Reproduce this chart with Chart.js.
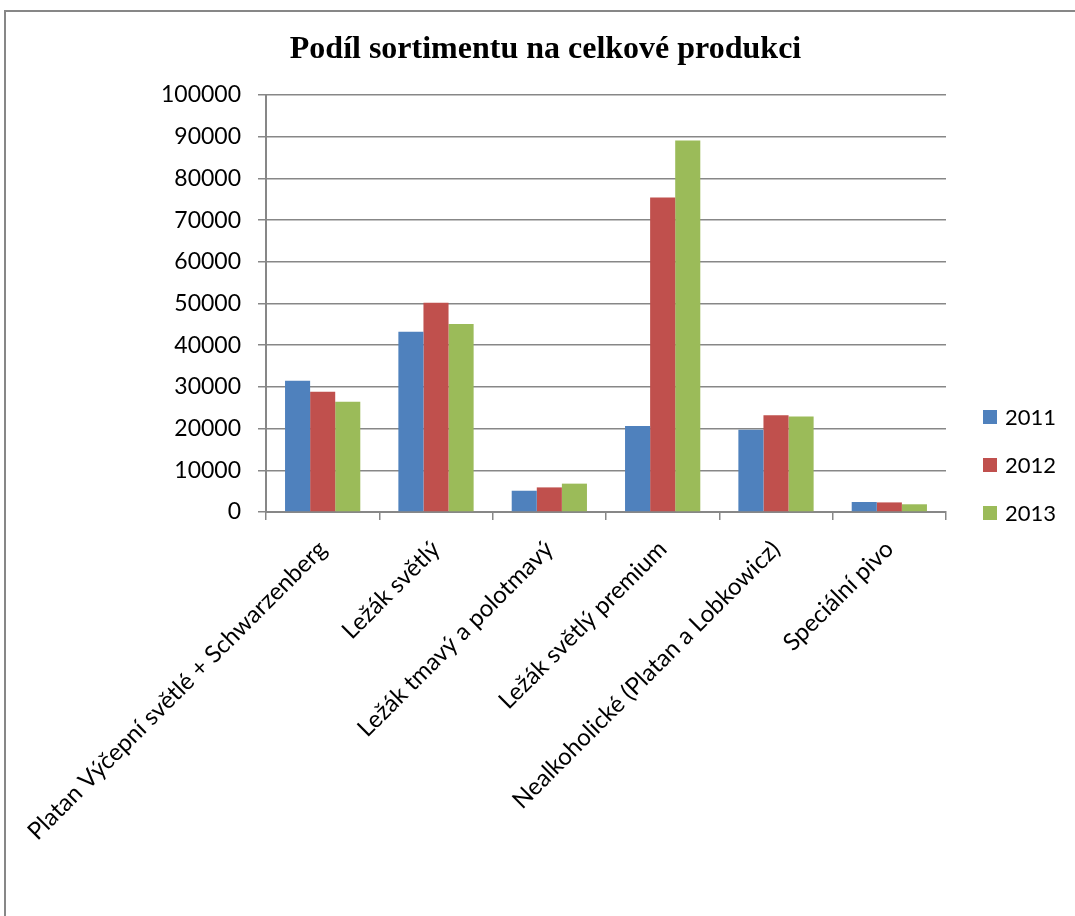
<!DOCTYPE html>
<html>
<head>
<meta charset="utf-8">
<script src="https://cdn.jsdelivr.net/npm/chart.js@4/dist/chart.umd.min.js"></script>
<style>
  html, body { margin: 0; padding: 0; background: #fff; overflow: hidden; }
  #wrap { position: relative; width: 1075px; height: 916px; }
  #frame { position: absolute; left: 4px; top: 10px; width: 1200px; height: 1000px; border: 2px solid #878787; box-sizing: border-box; }
  canvas { position: absolute; left: 0; top: 0; }
  .leg { position: absolute; left: 983px; font-family: Lato, "Liberation Sans", sans-serif; font-size: 22px; color: #000; line-height: 1; }
  .leg span.sw { position: absolute; left: 0; width: 14px; height: 14px; }
  .leg span.tx { position: absolute; left: 22px; white-space: nowrap; }
</style>
</head>
<body>
<div id="wrap">
  <div id="frame"></div>
  <canvas id="c" width="1075" height="916"></canvas>
  <div id="legend"></div>
</div>
<script>
const categories = [
  "Platan Výčepní světlé + Schwarzenberg",
  "Ležák světlý",
  "Ležák tmavý a polotmavý",
  "Ležák světlý premium",
  "Nealkoholické (Platan a Lobkowicz)",
  "Speciální pivo"
];
const seriesNames = ["2011", "2012", "2013"];
const values2011 = [31500, 43200, 5100, 20600, 19700, 2400];
const values2012 = [28850, 50200, 5900, 75400, 23200, 2300];
const values2013 = [26450, 45100, 6800, 89100, 22900, 1850];
const seriesColors = ["#4F81BD", "#C0504D", "#9BBB59"];
const titleText = "Podíl sortimentu na celkové produkci";

const seriesValues = [values2011, values2012, values2013];
const gridColor = "#878787";
const font = "Lato";

const chart = new Chart(document.getElementById("c"), {
  type: "bar",
  data: {
    labels: categories,
    datasets: seriesNames.map((n, i) => ({
      label: n,
      data: seriesValues[i],
      backgroundColor: seriesColors[i],
      borderWidth: 0,
      categoryPercentage: 0.664,
      barPercentage: 1.0
    }))
  },
  options: {
    responsive: false,
    animation: false,
    devicePixelRatio: 1,
    layout: { padding: { left: 16, right: 0, top: 0, bottom: 0 } },
    plugins: {
      legend: { display: false },
      tooltip: { enabled: false },
      title: {
        display: true,
        text: titleText,
        color: "#000",
        font: { family: "Liberation Serif", size: 32, weight: "bold", lineHeight: 1.2 },
        padding: { top: 31, bottom: 25.6 }
      }
    },
    scales: {
      x: {
        grid: { display: true, drawOnChartArea: false, drawTicks: true, tickLength: 8, color: gridColor, lineWidth: 1.5, offset: true },
        border: { display: true, color: gridColor, width: 2 },
        ticks: {
          color: "#000",
          font: { family: font, size: 24 },
          minRotation: 45,
          maxRotation: 45,
          autoSkip: false,
          padding: 15
        },
        afterFit: s => { s.height = 404; s.paddingLeft = 0; s.paddingRight = 0; }
      },
      y: {
        min: 0,
        max: 100000,
        grid: { display: true, drawTicks: true, tickLength: 8, color: gridColor, lineWidth: 1.5 },
        border: { display: true, color: gridColor, width: 2 },
        ticks: {
          stepSize: 10000,
          color: "#000",
          font: { family: font, size: 23 },
          padding: 17,
          callback: v => String(v)
        },
        afterFit: s => { s.width = 250; s.paddingTop = 0; s.paddingBottom = 0; }
      },
      yr: {
        position: "right",
        display: true,
        grid: { display: false, drawTicks: false },
        border: { display: false },
        ticks: { display: false },
        afterFit: s => { s.width = 129; }
      }
    }
  }
});

const legendEl = document.getElementById("legend");
const legendCenters = [416.5, 464.5, 512.5];
seriesNames.forEach((n, i) => {
  const d = document.createElement("div");
  d.className = "leg";
  d.style.top = (legendCenters[i] - 7) + "px";
  d.innerHTML = '<span class="sw" style="background:' + seriesColors[i] + '"></span><span class="tx" style="top:-4px">' + n + '</span>';
  legendEl.appendChild(d);
});
</script>
</body>
</html>
